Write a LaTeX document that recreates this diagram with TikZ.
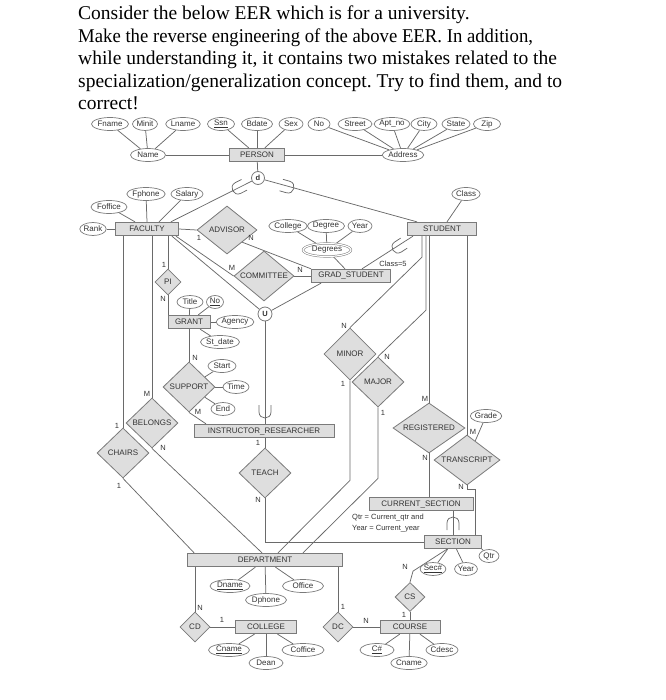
\documentclass[tikz,border=0pt]{standalone}
\usepackage{graphicx}
\usepackage{fontspec}
\setmainfont{Liberation Serif}
\newfontfamily\dgfont{Liberation Sans}
\usetikzlibrary{shapes.geometric,calc}
\pgfdeclarelayer{bg}
\pgfsetlayers{bg,main}
\definecolor{linegray}{HTML}{6A6A6A}
\definecolor{boxfill}{HTML}{DEDEDE}
\definecolor{bordergray}{HTML}{7A7A7A}
\definecolor{txtgray}{HTML}{333333}
\begin{document}
\begin{tikzpicture}[x=1pt,y=-1pt,
  every node/.style={text=txtgray},
  conn/.style={draw=linegray, line width=0.75pt},
  ent/.style={rectangle, draw=bordergray, fill=boxfill, line width=0.8pt, minimum height=13.5pt, inner sep=0pt, minimum width=#1, font=\dgfont\fontsize{8}{9}\selectfont},
  attr/.style={ellipse, draw=bordergray, fill=white, line width=0.7pt, minimum height=13pt, minimum width=#1, inner sep=0pt, font=\dgfont\fontsize{8}{9}\selectfont},
  rel/.style 2 args={diamond, aspect=1.3, draw=bordergray, fill=boxfill, line width=0.8pt, minimum width=#1, minimum height=#2, inner sep=0pt, font=\dgfont\fontsize{8}{9}\selectfont},
  circ/.style={circle, draw=bordergray, fill=white, line width=0.8pt, minimum size=13pt, inner sep=0pt, font=\dgfont\bfseries\fontsize{7.5}{8}\selectfont},
  card/.style={inner sep=0pt, font=\dgfont\fontsize{7.5}{8}\selectfont},
  titleline/.style={anchor=base west, inner sep=0pt, text=black, font=\fontsize{19.5}{22}\selectfont},
  subsetsym/.pic={\draw[conn] (7pt,-6pt) -- (0pt,-6pt) .. controls (-8pt,-6pt) and (-8pt,6pt) .. (0pt,6pt) -- (7pt,6pt);}
]
\useasboundingbox (0,0) rectangle (665,700);

% title
\node[titleline] (t1) at (78,20) {Consider the below EER which is for a university.};
\node[titleline] (t2) at (78,42.5) {\scalebox{0.96}[1]{Make the reverse engineering of the above EER. In addition,}};
\node[titleline] (t3) at (78,65) {while understanding it, it contains two mistakes related to the};
\node[titleline] (t4) at (78,87.5) {specialization/generalization concept.\ Try to find them, and to};
\node[titleline] (t5) at (78,110) {correct!};

% PERSON
\node[attr=37pt] (fname) at (110,124) {Fname};
\node[attr=25pt] (minit) at (145,124) {Minit};
\node[attr=34pt] (lname) at (183,124) {Lname};
\node[attr=27pt] (ssn) at (221,124) {\underline{Ssn}};
\node[attr=31pt] (bdate) at (257,124) {Bdate};
\node[attr=24pt] (sex) at (291,124) {Sex};
\node[attr=22pt] (no) at (319,124) {No};
\node[attr=34pt] (street) at (355,124) {Street};
\node[attr=34pt] (aptno) at (392,124) {Apt\_no};
\node[attr=26pt] (city) at (424,124) {City};
\node[attr=28pt] (state) at (456,124) {State};
\node[attr=27pt] (zip) at (487,124) {Zip};
\node[attr=35pt] (name) at (148,155) {Name};
\node[ent=55pt] (person) at (257,155) {PERSON};
\node[attr=39pt] (address) at (403,155) {Address};
\node[circ] (dcirc) at (258,178) {d};

% FACULTY / STUDENT
\node[attr=33pt] (fphone) at (146,194) {Fphone};
\node[attr=29pt] (salary) at (187,194) {Salary};
\node[attr=36pt] (foffice) at (109,207) {Foffice};
\node[attr=25pt] (rank) at (93,229) {Rank};
\node[ent=63pt] (faculty) at (147,229) {FACULTY};
\node[attr=28pt] (class) at (466,194) {Class};
\node[ent=69pt] (student) at (442,229) {STUDENT};
\node[rel={60pt}{48pt}] (advisor) at (227,230) {ADVISOR};
\node[attr=36pt] (college) at (288,226) {College};
\node[attr=33pt] (degree) at (326,226) {Degree};
\node[attr=24pt] (year1) at (360,226) {Year};
\node[attr=48pt, double=white, double distance=1.2pt, line width=0.5pt] (degrees) at (327,250) {Degrees};
\node[ent=79pt] (gradstudent) at (351,276) {GRAD\_STUDENT};
\node[card] (classcond) at (393,264) {Class=5};
\node[rel={60pt}{50pt}] (committee) at (264,276) {COMMITTEE};
\node[rel={26pt}{26pt}] (pi) at (168,282) {PI};
\node[circ, minimum size=14pt] (ucirc) at (265,314) {U};

% GRANT / SUPPORT
\node[attr=26pt] (title) at (190,302) {Title};
\node[attr=17pt] (grantno) at (215,302) {\underline{No}};
\node[attr=36pt] (agency) at (235,322) {Agency};
\node[attr=36pt] (stdate) at (220,342) {St\_date};
\node[ent=42pt] (grant) at (189,322) {GRANT};
\node[rel={52pt}{50pt}] (support) at (189,387) {SUPPORT};
\node[attr=28pt] (start) at (222,366) {Start};
\node[attr=26pt] (time) at (236,387) {Time};
\node[attr=24pt] (end) at (223,409) {End};
\node[rel={52pt}{50pt}] (belongs) at (152,423) {BELONGS};
\node[rel={52pt}{50pt}] (chairs) at (123,453) {CHAIRS};
\node[ent=140pt] (ir) at (264,431) {INSTRUCTOR\_RESEARCHER};
\node[rel={52pt}{50pt}] (teach) at (265,473) {TEACH};

% MINOR / MAJOR / REGISTERED / TRANSCRIPT
\node[rel={52pt}{52pt}] (minor) at (350,354) {MINOR};
\node[rel={52pt}{50pt}] (major) at (378,382) {MAJOR};
\node[rel={72pt}{50pt}] (registered) at (429,428) {REGISTERED};
\node[rel={66pt}{50pt}] (transcript) at (467,460) {TRANSCRIPT};
\node[attr=26pt] (grade) at (486,416) {Grade};
\node[ent=104pt] (cursec) at (421,504) {CURRENT\_SECTION};
\node[card, anchor=north west, align=left, font=\dgfont\fontsize{7.5}{11}\selectfont] (cond) at (352,514) {Qtr = Current\_qtr and\\Year = Current\_year};
\node[ent=57pt] (section) at (453,542) {SECTION};
\node[attr=20pt] (qtr) at (489,556) {Qtr};
\node[attr=21pt] (secno) at (433,569) {\underline{Sec\#}};
\node[attr=21pt] (year2) at (466,569) {Year};

% DEPARTMENT / COLLEGE / COURSE
\node[ent=155pt] (department) at (265,560) {DEPARTMENT};
\node[attr=40pt] (dname) at (230,586) {\underline{Dname}};
\node[attr=41pt] (dphone) at (266,600) {Dphone};
\node[attr=41pt] (office) at (303,586) {Office};
\node[rel={30pt}{30pt}] (cd) at (195,627) {CD};
\node[ent=61pt] (collegebox) at (266,627) {COLLEGE};
\node[attr=41pt] (cname1) at (229,650) {\underline{Cname}};
\node[attr=42pt] (coffice) at (303,650) {Coffice};
\node[attr=34pt] (dean) at (266,663) {Dean};
\node[rel={30pt}{30pt}] (dc) at (338,627) {DC};
\node[rel={30pt}{29pt}] (cs) at (410,597) {CS};
\node[ent=60pt] (course) at (410,627) {COURSE};
\node[attr=34pt] (cno) at (377,650) {\underline{C\#}};
\node[attr=33pt] (cname2) at (409,663) {Cname};
\node[attr=32pt] (cdesc) at (442,650) {Cdesc};

% cardinalities
\node[card] (k1) at (199,238) {1};
\node[card] (k2) at (251,238) {N};
\node[card] (k3) at (232,268) {M};
\node[card] (k4) at (300,270) {N};
\node[card] (k5) at (164,265) {1};
\node[card] (k6) at (163,299) {N};
\node[card] (k7) at (195,358) {N};
\node[card] (k8) at (198,412) {M};
\node[card] (k9) at (147,394) {M};
\node[card] (k10) at (163,448) {N};
\node[card] (k11) at (117,426) {1};
\node[card] (k12) at (119,486) {1};
\node[card] (k13) at (258,443) {1};
\node[card] (k14) at (258,500) {N};
\node[card] (k15) at (344,326) {N};
\node[card] (k16) at (343,384) {1};
\node[card] (k17) at (387,357) {N};
\node[card] (k18) at (383,413) {1};
\node[card] (k19) at (425,399) {M};
\node[card] (k20) at (425,458) {N};
\node[card] (k21) at (473,432) {M};
\node[card] (k22) at (461,487) {N};
\node[card] (k23) at (405,567) {N};
\node[card] (k24) at (404,615) {1};
\node[card] (k25) at (200,608) {N};
\node[card] (k26) at (222,620) {1};
\node[card] (k27) at (343,607) {1};
\node[card] (k28) at (366,621) {N};

\begin{pgfonlayer}{bg}
\draw[conn] (fname)--(name); \draw[conn] (minit)--(name); \draw[conn] (lname)--(name);
\draw[conn] (name)--(person);
\draw[conn] (ssn)--(person); \draw[conn] (bdate)--(person); \draw[conn] (sex)--(person);
\draw[conn] (person)--(address);
\draw[conn] (no)--(address); \draw[conn] (street)--(address); \draw[conn] (aptno)--(address);
\draw[conn] (city)--(address); \draw[conn] (state)--(address); \draw[conn] (zip)--(address);
\draw[conn] (person)--(dcirc);
\draw[conn] (dcirc)--([xshift=-8pt]faculty.north east);
\draw[conn] (dcirc)--([xshift=-25pt]student.north);
\draw[conn] (fphone)--(faculty.north);
\draw[conn] (salary)--([xshift=12pt]faculty.north);
\draw[conn] (foffice)--([xshift=-12pt]faculty.north);
\draw[conn] (rank)--(faculty);
\draw[conn] (class)--([xshift=5pt]student.north);
\draw[conn] (faculty.east)--(advisor.west);
\draw[conn] (advisor.south east)--(gradstudent.north west);
\draw[conn] (college)--(degrees); \draw[conn] (degree)--(degrees); \draw[conn] (year1)--(degrees);
\draw[conn] (degrees)--([xshift=-6pt]gradstudent.north);
\draw[conn] ([xshift=-3pt]faculty.south east)--(committee.west);
\draw[conn] ([xshift=-7pt]faculty.south east)--(ucirc);
\draw[conn] (committee.east)--(gradstudent.west);
\draw[conn] ([xshift=10pt]gradstudent.south west)--(ucirc);
\draw[conn] (ucirc)--(ucirc |- ir.north);
\draw[conn] (pi.north |- faculty.south)--(pi.north);
\draw[conn] (pi.south)--(pi.south |- grant.north);
\draw[conn] (title)--(grant); \draw[conn] (grantno)--(grant);
\draw[conn] (agency)--(grant); \draw[conn] (stdate)--(grant);
\draw[conn] (grant.south)--(support.north);
\draw[conn] (support)--(start); \draw[conn] (support)--(time); \draw[conn] (support)--(end);
\draw[conn] (support.south)--([xshift=-58pt]ir.north);
\draw[conn] (belongs.north |- faculty.south)--(belongs.north);
\draw[conn] (chairs.north |- faculty.south)--(chairs.north);
\draw[conn] (belongs.south)--([xshift=-3pt]department.north);
\draw[conn] (chairs.south)--([xshift=7pt]department.north west);
\draw[conn] (ir.south -| teach.north)--(teach.north);
\draw[conn] (teach.south)--(teach.south |- section.west)--(section.west);
\draw[conn] ([xshift=-29pt]student.south)--([xshift=11pt]gradstudent.north);
\draw[conn] ([xshift=-20pt]student.south)--++(0,21)--(minor.north);
\draw[conn] ([xshift=-16pt]student.south)--++(0,74)--(major.north);
\draw[conn] ([xshift=-13pt]student.south)--(registered.north);
\draw[conn] ([xshift=25pt]student.south)--(transcript.north);
\draw[conn] (minor.south)--++(0,100)--([xshift=13pt]department.north);
\draw[conn] (major.south)--++(0,71)--([xshift=38pt]department.north);
\draw[conn] (registered.south)--(registered.south |- cursec.north);
\draw[conn] (transcript.south)--++(0,4)-|([xshift=22pt]section.north);
\draw[conn] (section.north |- cursec.south)--(section.north);
\draw[conn] (grade)--(transcript);
\draw[conn] (section.south east)--(qtr);
\draw[conn] (section)--(secno); \draw[conn] (section)--(year2);
\draw[conn] ([xshift=-6pt]section.south)--++(-34,22)--(cs.north);
\draw[conn] (cs.south)--(course.north);
\draw[conn] (cd.north |- department.south)--(cd.north);
\draw[conn] (dc.north |- department.south)--(dc.north);
\draw[conn] (cd.east)--(collegebox.west);
\draw[conn] (dc.east)--(course.west);
\draw[conn] (dname)--(department); \draw[conn] (dphone)--(department); \draw[conn] (office)--(department);
\draw[conn] (cname1)--(collegebox); \draw[conn] (dean)--(collegebox); \draw[conn] (coffice)--(collegebox);
\draw[conn] (cno)--(course); \draw[conn] (cname2)--(course); \draw[conn] (cdesc)--(course);
\end{pgfonlayer}

% subset symbols
\pic[rotate=27] at (238,188) {subsetsym};
\pic[rotate=164] at (288,187) {subsetsym};
\pic[rotate=33] at (398,247) {subsetsym};
\pic[rotate=90] at (265,412) {subsetsym};
\pic[rotate=-90] at (453,523) {subsetsym};
\end{tikzpicture}
\end{document}
